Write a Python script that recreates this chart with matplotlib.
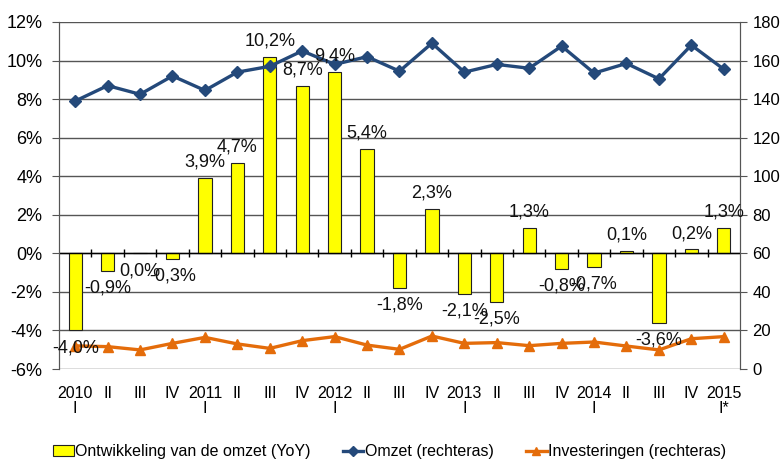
import matplotlib
matplotlib.use("Agg")
import matplotlib.pyplot as plt
from matplotlib import font_manager
from matplotlib.patches import Patch
from matplotlib.lines import Line2D
import numpy as np

# ---- data ----
categories = ["2010\nI", "II", "III", "IV", "2011\nI", "II", "III", "IV",
              "2012\nI", "II", "III", "IV", "2013\nI", "II", "III", "IV",
              "2014\nI", "II", "III", "IV", "2015\nI*"]
yoy = [-4.0, -0.9, 0.0, -0.3, 3.9, 4.7, 10.2, 8.7, 9.4, 5.4, -1.8, 2.3,
       -2.1, -2.5, 1.3, -0.8, -0.7, 0.1, -3.6, 0.2, 1.3]
omzet = [139, 147, 142.5, 152, 144.5, 154, 157, 165, 158, 162, 154.5, 169,
         154, 158, 156, 167.5, 153.5, 158.5, 150.5, 168, 155.5]
invest = [12, 11.6, 9.9, 13.3, 16.4, 13, 10.7, 14.7, 16.8, 12.4, 10.2, 17.1,
          13.3, 13.7, 12.1, 13.3, 14, 11.9, 9.9, 15.7, 16.8]
left_ticks = [-6, -4, -2, 0, 2, 4, 6, 8, 10, 12]
right_ticks = [0, 20, 40, 60, 80, 100, 120, 140, 160, 180]
legend_labels = ["Ontwikkeling van de omzet (YoY)", "Omzet (rechteras)",
                 "Investeringen (rechteras)"]

# ---- font ----
avail = {f.name for f in font_manager.fontManager.ttflist}
fam = None
for cand in ["Liberation Sans Narrow", "Arial Narrow", "DejaVu Sans Condensed",
             "Liberation Sans"]:
    if cand in avail:
        fam = cand
        break
plt.rcParams['font.family'] = [fam, 'DejaVu Sans'] if fam else ['DejaVu Sans']

BLUE = "#24497A"
ORANGE = "#E46C0A"
GRID = "#555555"

fig = plt.figure(figsize=(7.84, 4.62), dpi=100)
ax = fig.add_axes([59/784, 1-369/462, (740-59)/784, (369-22)/462])
ax2 = ax.twinx()

x = np.arange(len(categories))
ax.bar(x, yoy, width=0.41, color="#FFFF00", edgecolor="#222222",
       linewidth=0.8, zorder=3)
ax.set_xlim(-0.5, len(categories)-0.5)
ax.set_ylim(-6, 12)
ax.set_yticks(left_ticks)
ax.set_yticklabels([f"{t}%" for t in left_ticks], fontsize=13)
ax.grid(axis='y', color=GRID, linewidth=1.0, zorder=0)
ax.set_axisbelow(True)
ax.axhline(0, color="black", linewidth=1.0, zorder=4)
ax.vlines(x[:-1]+0.5, -0.2, 0.2, color="black", linewidth=1.0, zorder=4)
ax.set_xticks(x)
ax.set_xticklabels(categories, fontsize=11.5, linespacing=1.05)
ax.tick_params(axis='x', length=0, pad=12)
ax.tick_params(axis='y', direction='out', length=5, color=GRID, pad=7)
for s in ['top', 'bottom']:
    ax.spines[s].set_visible(False)
    ax2.spines[s].set_visible(False)
for s in ['left', 'right']:
    ax.spines[s].set_color(GRID)
    ax2.spines[s].set_color(GRID)

ax2.plot(x, omzet, color=BLUE, linewidth=2.4, marker='D', markersize=6.5,
         zorder=5)
ax2.plot(x, invest, color=ORANGE, linewidth=2.4, marker='^', markersize=7.5,
         zorder=5)
ax2.set_ylim(0, 180)
ax2.set_yticks(right_ticks)
ax2.set_yticklabels([str(t) for t in right_ticks], fontsize=12)
ax2.tick_params(axis='y', direction='out', length=5, color=GRID, pad=4)

for xi, v in zip(x, yoy):
    lab = f"{v:.1f}%".replace('.', ',')
    off = 11.5 if v > 0 else -12.5
    ax2.annotate(lab, xy=(xi, v), xycoords=ax.transData, xytext=(0, off),
                 textcoords='offset points', ha='center', va='center',
                 fontsize=13, color="#111111", zorder=6)

handles = [Patch(facecolor="#FFFF00", edgecolor="#222222", linewidth=0.8),
           Line2D([], [], color=BLUE, linewidth=2.4, marker='D', markersize=5),
           Line2D([], [], color=ORANGE, linewidth=2.4, marker='^', markersize=6)]
fig.legend(handles, legend_labels, loc='center', bbox_to_anchor=(0.497, 0.022),
           ncol=3, frameon=False, fontsize=11.5, handlelength=1.3,
           handletextpad=0.1, columnspacing=2.0)

fig.savefig("out.png", dpi=100)
